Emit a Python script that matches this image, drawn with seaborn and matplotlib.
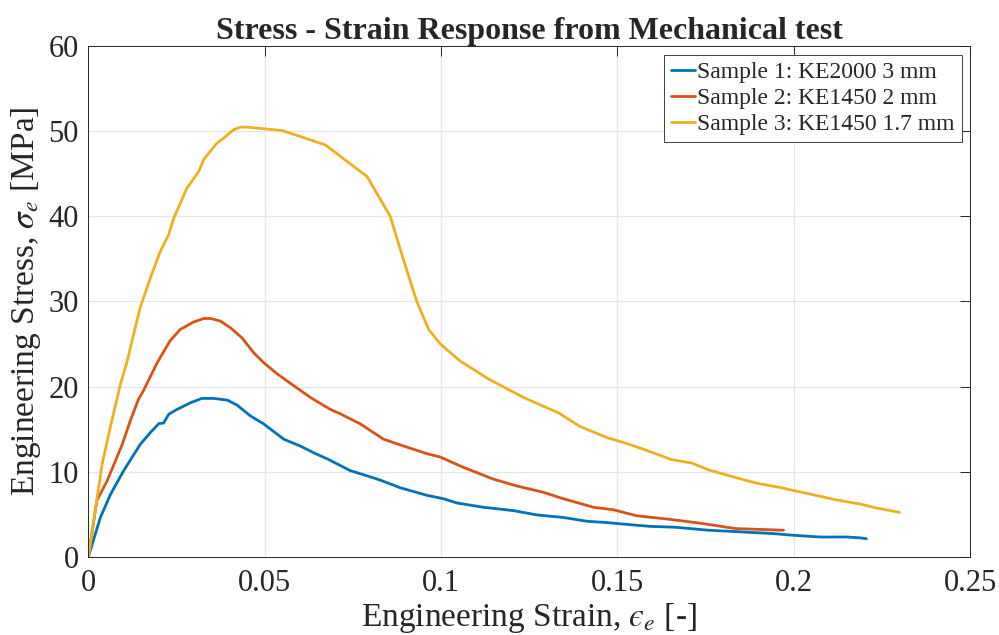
import numpy as np
import pandas as pd
import seaborn as sns
import matplotlib
matplotlib.use('Agg')
import matplotlib.pyplot as plt

# =============================================================================
# #Digitised curves (strain [-], stress [MPa])
# =============================================================================
strain_s1 = [0, 0.0034, 0.0063, 0.0100, 0.0147, 0.0176, 0.0200, 0.0213, 0.0228, 0.0251,
             0.0290, 0.0322, 0.0355, 0.0394, 0.0422, 0.0459, 0.0497, 0.0554, 0.0601, 0.0639,
             0.0677, 0.0743, 0.0790, 0.0827, 0.0884, 0.0960, 0.1007, 0.1045, 0.1120, 0.1206,
             0.1271, 0.1347, 0.1414, 0.1470, 0.1536, 0.1594, 0.1664, 0.1758, 0.1853, 0.1943,
             0.200, 0.2075, 0.2151, 0.2189, 0.2206]
stress_s1 = [0, 4.6, 7.35, 10.1, 13.2, 14.6, 15.65, 15.7, 16.75, 17.3,
             18.1, 18.6, 18.6, 18.4, 17.8, 16.55, 15.6, 13.8, 13.0, 12.2,
             11.5, 10.1, 9.5, 9.0, 8.1, 7.2, 6.8, 6.3, 5.8, 5.4,
             4.9, 4.6, 4.15, 4.0, 3.75, 3.55, 3.45, 3.1, 2.9, 2.7,
             2.5, 2.3, 2.3, 2.2, 2.1]

strain_s2 = [0, 0.0024, 0.0053, 0.0096, 0.0119, 0.0142, 0.0156, 0.0195, 0.0232, 0.0260,
             0.0299, 0.0327, 0.0346, 0.0374, 0.0403, 0.0436, 0.0468, 0.0497, 0.0535, 0.0582,
             0.0630, 0.0686, 0.0714, 0.0771, 0.0837, 0.0894, 0.0960, 0.0998, 0.1063, 0.1149,
             0.1215, 0.1291, 0.1347, 0.1432, 0.1489, 0.1555, 0.1621, 0.1645, 0.1739, 0.1834,
             0.1900, 0.1971]
stress_s2 = [0, 6.6, 8.9, 13.2, 16.0, 18.5, 19.5, 22.8, 25.4, 26.7,
             27.6, 28.0, 28.0, 27.7, 26.9, 25.7, 24.0, 22.8, 21.5, 20.1,
             18.7, 17.3, 16.8, 15.6, 13.8, 13.0, 12.1, 11.7, 10.5, 9.1,
             8.3, 7.55, 6.8, 5.8, 5.5, 4.8, 4.5, 4.4, 3.9, 3.3,
             3.2, 3.1]

strain_s3 = [0, 0.0039, 0.0063, 0.0091, 0.0110, 0.0128, 0.0147, 0.0176, 0.0204, 0.0228,
             0.0242, 0.0279, 0.0313, 0.0327, 0.0364, 0.0383, 0.0412, 0.0431, 0.0450, 0.0549,
             0.0601, 0.0672, 0.0790, 0.0856, 0.0889, 0.0931, 0.0965, 0.0998, 0.1054, 0.1134,
             0.1234, 0.1333, 0.1394, 0.1470, 0.1518, 0.1569, 0.1654, 0.1711, 0.1758,
             0.1843, 0.1899, 0.1965, 0.1990, 0.2041, 0.2116, 0.2192, 0.2230, 0.2300]
stress_s3 = [0, 10.9, 15.4, 20.3, 23.0, 26.1, 29.3, 32.8, 35.9, 37.9,
             39.8, 43.3, 45.3, 46.7, 48.6, 49.2, 50.2, 50.5, 50.5, 50.1,
             49.4, 48.4, 44.7, 40.0, 35.5, 30.0, 26.7, 25.0, 23.0, 20.9,
             18.7, 16.9, 15.3, 14.0, 13.4, 12.7, 11.4, 11.0, 10.2,
             9.2, 8.6, 8.1, 7.85, 7.4, 6.7, 6.15, 5.75, 5.2]

labels = ['Sample 1: KE2000 3 mm', 'Sample 2: KE1450 2 mm', 'Sample 3: KE1450 1.7 mm']
colors = ['#0072BD', '#D95319', '#EDB120']

x_ticks = [0, 0.05, 0.1, 0.15, 0.2, 0.25]
x_ticklabels = ['0', '0.05', '0.1', '0.15', '0.2', '0.25']
y_ticks = [0, 10, 20, 30, 40, 50, 60]

# long form table for seaborn
frames = []
for lab, xs, ys in zip(labels, [strain_s1, strain_s2, strain_s3], [stress_s1, stress_s2, stress_s3]):
    frames.append(pd.DataFrame({'strain': xs, 'stress': ys, 'sample': lab}))
data = pd.concat(frames, ignore_index=True)

# =============================================================================
# #Plot
# =============================================================================
sns.set_style('whitegrid')
plt.rcParams['font.family'] = ['Liberation Serif', 'DejaVu Serif']
plt.rcParams['mathtext.fontset'] = 'stix'

fig = plt.figure(figsize=(9.99, 6.35), dpi=100)
ax = fig.add_axes([0.0885, 0.1235, 0.8825, 0.8035])

for lab, col in zip(labels, colors):
    sns.lineplot(data=data[data['sample'] == lab], x='strain', y='stress', color=col,
                 sort=False, estimator=None, linewidth=2.0, label=lab, ax=ax)

ax.set_xlim(0, 0.25)
ax.set_ylim(0, 60)
ax.set_xticks(x_ticks)
ax.set_xticklabels(x_ticklabels)
ax.set_yticks(y_ticks)
ax.grid(True, color='#e6e6e6', linewidth=0.9)
for sp in ax.spines.values():
    sp.set_visible(True)
    sp.set_color('#262626')
    sp.set_linewidth(0.7)
ax.tick_params(axis='both', direction='in', length=7, width=0.7, color='#262626',
               labelsize=22, labelcolor='#262626', top=True, right=True)
ax.tick_params(axis='x', pad=9)
ax.tick_params(axis='y', pad=7)

# lunate epsilon as in the original
ax.set_xlabel('Engineering Strain, $\u03f5_e$ [-]', fontsize=24, color='#262626', labelpad=2)
ax.set_ylabel(r'Engineering Stress, $\sigma_e$ [MPa]', fontsize=24, color='#262626', labelpad=4)
ax.set_title('Stress - Strain Response from Mechanical test', fontsize=23, fontweight='bold', pad=5)

leg = ax.legend(loc='upper right', fontsize=17, frameon=True, fancybox=False, handlelength=1.0,
                handletextpad=0.1, borderpad=0.3, labelspacing=0.18, borderaxespad=0.35)
leg.get_frame().set_edgecolor('#404040')
leg.get_frame().set_linewidth(0.7)
leg.get_frame().set_alpha(1)

fig.savefig('out.png', dpi=100)
